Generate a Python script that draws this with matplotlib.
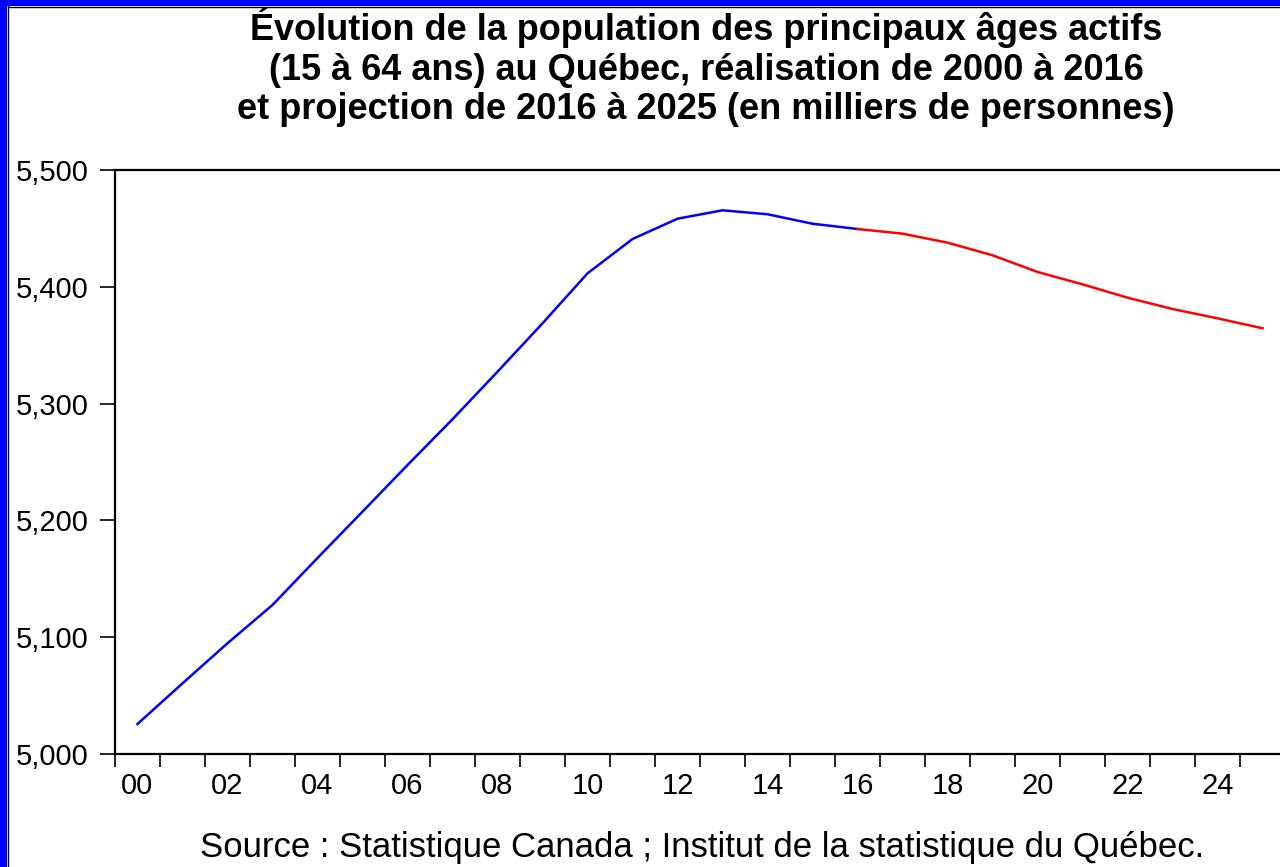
import matplotlib
matplotlib.use("Agg")
import matplotlib.pyplot as plt
from matplotlib.patches import Rectangle
from matplotlib.lines import Line2D

plt.rcParams['font.family'] = ['Liberation Sans', 'DejaVu Sans']

# données (milliers de personnes)
annees_reel = list(range(2000, 2017))
pop_reel = [5025.7, 5060.5, 5094.8, 5127.6, 5167.8, 5207.5, 5247.4, 5286.6,
            5327.3, 5368.7, 5411.5, 5440.9, 5458.3, 5465.5, 5462.1, 5454.0, 5449.5]
annees_proj = list(range(2016, 2026))
pop_proj = [5449.5, 5445.5, 5437.8, 5427.0, 5412.7, 5402.1, 5390.7, 5381.0, 5373.0, 5364.5]
etiquettes_x = ["00", "02", "04", "06", "08", "10", "12", "14", "16", "18", "20", "22", "24"]
ticks_y = [5000, 5100, 5200, 5300, 5400, 5500]

titre = ("Évolution de la population des principaux âges actifs\n"
         "(15 à 64 ans) au Québec, réalisation de 2000 à 2016\n"
         "et projection de 2016 à 2025 (en milliers de personnes)")
source = "Source : Statistique Canada ; Institut de la statistique du Québec."

W, H = 1280, 867
fig = plt.figure(figsize=(W / 100, H / 100), dpi=100)
ax = fig.add_axes([115 / W, 1 - 754 / H, (1285 - 115) / W, (754 - 170) / H])

# position au milieu de chaque année (style EViews)
x_reel = [a - 2000 + 0.5 for a in annees_reel]
x_proj = [a - 2000 + 0.5 for a in annees_proj]
ax.plot(x_reel, pop_reel, color="#0000ff", lw=1.8)
ax.plot(x_proj, pop_proj, color="#ff0000", lw=1.8)

ax.set_xlim(0, 26)
ax.set_ylim(5000, 5500)
ax.set_yticks(ticks_y)
ax.set_yticklabels([f"{v:,}" for v in ticks_y])
ax.set_xticks(range(0, 26))
ax.set_xticklabels([])
ax.set_xticks([i + 0.5 for i in range(0, 26, 2)], minor=True)
ax.set_xticklabels(etiquettes_x, minor=True)
ax.tick_params(axis="x", which="major", direction="out", length=9.5, width=1.2, color="black")
ax.tick_params(axis="x", which="minor", length=0, pad=13, labelsize=21)
ax.tick_params(axis="y", direction="out", length=11, width=1.2, pad=8, labelsize=21)

for s in ["left", "bottom", "top"]:
    ax.spines[s].set_linewidth(1.6)
ax.spines["right"].set_visible(False)

fig.text(706 / W, 1 - 67 / H, titre, ha="center", va="center",
         fontsize=26, fontweight="bold", linespacing=1.15)
fig.text(702 / W, 1 - 857 / H, source, ha="center", va="baseline", fontsize=25)

# bordure bleue du cadre
fig.patches.append(Rectangle((0, 0), 7 / W, 1, transform=fig.transFigure,
                             facecolor="#0000ff", edgecolor="none", zorder=10))
fig.patches.append(Rectangle((0, 1 - 6 / H), 1, 6 / H, transform=fig.transFigure,
                             facecolor="#0000ff", edgecolor="none", zorder=10))
fig.lines.append(Line2D([7.5 / W, 7.5 / W], [0, 1 - 6 / H], transform=fig.transFigure,
                        color="black", lw=1))
fig.lines.append(Line2D([7.5 / W, 1], [1 - 6.5 / H, 1 - 6.5 / H], transform=fig.transFigure,
                        color="black", lw=1))

fig.savefig("out.png", dpi=100)
